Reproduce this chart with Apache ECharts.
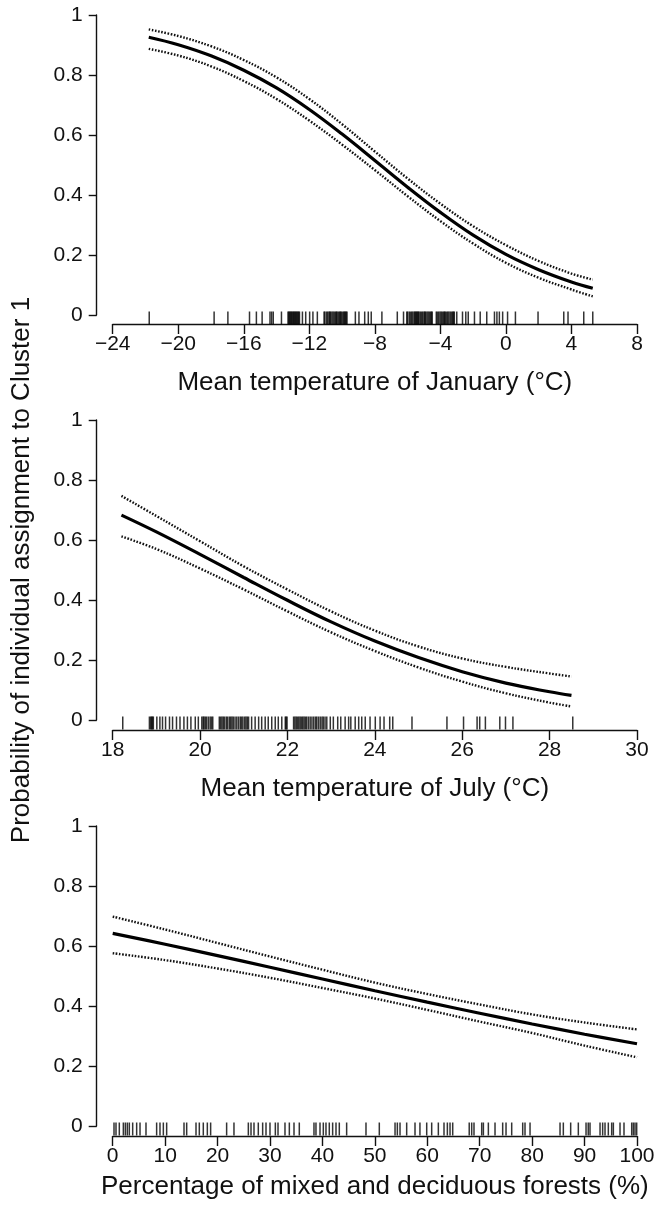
<!DOCTYPE html>
<html>
<head>
<meta charset="utf-8">
<script src="https://cdn.jsdelivr.net/npm/echarts@6/dist/echarts.min.js"></script>
<style>
  html, body { margin: 0; padding: 0; background: #fff; }
  #chart { width: 666px; height: 1209px; }
</style>
</head>
<body>
<div id="chart"></div>
<script>
// panel 1 - mean temperature of January
const janX = [-21.8, -20, -18, -16, -14, -12, -10, -8, -6, -4, -2, 0, 2, 4, 5.3];
const janFit = [0.926, 0.901, 0.864, 0.816, 0.757, 0.685, 0.603, 0.515, 0.426, 0.342, 0.266, 0.202, 0.151, 0.110, 0.089];
const janUpper = [0.952, 0.930, 0.896, 0.850, 0.792, 0.720, 0.636, 0.545, 0.455, 0.371, 0.296, 0.233, 0.180, 0.138, 0.118];
const janLower = [0.887, 0.865, 0.829, 0.780, 0.720, 0.648, 0.568, 0.483, 0.396, 0.313, 0.238, 0.174, 0.124, 0.085, 0.062];
const janRug = [-21.77, -17.81, -16.97, -15.65, -15.23, -14.88, -14.4, -14.3, -14.2, -13.7,
  -13.3, -13.25, -13.2, -13.15, -13.1, -13.05, -13.0, -12.95, -12.9, -12.85, -12.8, -12.75, -12.7, -12.65, -12.6,
  -12.42, -12.22, -11.98, -11.78, -11.51,
  -11.1, -11.05, -10.95, -10.88, -10.8, -10.75, -10.7, -10.62, -10.55, -10.48, -10.4, -10.35, -10.3, -10.22, -10.15,
  -10.1, -10.05, -9.97, -9.9, -9.85, -9.8, -9.75, -9.7,
  -9.19, -8.97, -8.62, -8.4, -8.22, -7.57, -6.63, -6.25,
  -6.05, -6.0, -5.9, -5.82, -5.75, -5.68, -5.6, -5.55, -5.5, -5.45, -5.4, -5.35, -5.3, -5.22, -5.15, -5.08, -5.0,
  -4.95, -4.9, -4.82, -4.75, -4.68, -4.6, -4.55, -4.5,
  -4.25, -4.18, -4.1, -4.02, -3.95, -3.88, -3.8, -3.75, -3.7, -3.62, -3.55, -3.48, -3.4, -3.32, -3.25, -3.2, -3.15,
  -3.0, -2.65, -2.45, -2.3, -1.92, -1.57, -1.17, -0.7, -0.55, -0.4, -0.2, 0.1, 0.58, 1.96, 3.53, 3.79, 4.75, 5.3];

// panel 2 - mean temperature of July
const julX = [18.2, 19, 20, 21, 22, 23, 24, 25, 26, 27, 28, 28.5];
const julFit = [0.683, 0.627, 0.552, 0.475, 0.399, 0.327, 0.263, 0.208, 0.161, 0.123, 0.094, 0.082];
const julUpper = [0.747, 0.680, 0.596, 0.512, 0.435, 0.362, 0.298, 0.245, 0.205, 0.177, 0.155, 0.145];
const julLower = [0.612, 0.570, 0.505, 0.435, 0.362, 0.292, 0.230, 0.175, 0.128, 0.089, 0.058, 0.045];
const julRug = [18.23, 18.84, 18.87, 18.89, 18.91, 18.93, 19.01, 19.08, 19.14, 19.21, 19.3, 19.37, 19.46, 19.54,
  19.63, 19.71, 19.79, 19.89, 19.96,
  20.04, 20.07, 20.09, 20.12, 20.15, 20.19, 20.23, 20.26, 20.29,
  20.44, 20.47, 20.5, 20.53, 20.56, 20.6, 20.63, 20.67, 20.7, 20.73, 20.76, 20.8, 20.84, 20.88, 20.92, 20.95, 20.98,
  21.02, 21.05, 21.08, 21.11, 21.18, 21.26, 21.34, 21.41, 21.49, 21.56, 21.64, 21.72, 21.79, 21.87,
  21.95, 21.97, 21.99,
  22.14, 22.17, 22.2, 22.23, 22.26, 22.29, 22.32, 22.35, 22.38, 22.41, 22.44, 22.48, 22.52, 22.56, 22.6, 22.64,
  22.67, 22.71, 22.75, 22.79, 22.82, 22.86, 22.9,
  22.98, 23.05, 23.15, 23.22, 23.32, 23.4, 23.45, 23.55, 23.63, 23.7, 23.78, 23.89, 24.01, 24.12, 24.21, 24.34,
  24.41, 24.85, 25.65, 26.03, 26.34, 26.4, 26.53, 26.86, 26.99, 27.16, 28.53];

// panel 3 - mixed and deciduous forests
const forX = [0, 10, 20, 30, 40, 50, 60, 70, 80, 90, 100];
const forFit = [0.642, 0.606, 0.568, 0.529, 0.490, 0.451, 0.413, 0.376, 0.340, 0.306, 0.274];
const forUpper = [0.698, 0.655, 0.610, 0.565, 0.521, 0.478, 0.440, 0.405, 0.372, 0.345, 0.322];
const forLower = [0.576, 0.553, 0.525, 0.494, 0.460, 0.425, 0.387, 0.348, 0.310, 0.268, 0.229];
const forRug = [0.25, 0.63, 1.26, 2.03, 2.41, 2.79, 3.17, 3.81, 4.57, 5.21, 6.35, 8.38, 9.02, 9.66, 10.29, 13.6, 14.11,
  15.89, 16.52, 17.28, 18.05, 18.68, 21.73, 23.13, 25.87, 26.38, 26.95, 27.77, 28.6, 29.24, 30.0, 31.02, 31.53, 32.86,
  33.69, 34.58, 35.59, 38.39, 38.77, 39.54, 40.17, 40.68, 41.31, 41.95, 42.59, 43.22, 44.62, 48.31, 50.85, 53.85, 54.29,
  54.8, 56.07, 57.66, 58.6, 59.89, 60.84, 62.11, 63.19, 63.83, 64.34, 64.85, 68.0, 68.47, 68.91, 70.38, 70.7, 71.65,
  72.92, 74.38, 75.02, 76.1, 78.2, 78.64, 79.6, 85.32, 85.95, 87.35, 88.81, 90.28, 90.7, 91.04, 92.95, 93.45, 93.9,
  94.53, 95.17, 95.49, 96.76, 97.52, 98.99, 99.3, 99.62, 99.94];

const xNames = ['Mean temperature of January (°C)', 'Mean temperature of July (°C)',
  'Percentage of mixed and deciduous forests (%)'];
const xRanges = [[-24, 8, 4], [18, 30, 2], [0, 100, 10]];
const yTitle = 'Probability of individual assignment to Cluster 1';

const panels = [
  { x: janX, fit: janFit, up: janUpper, lo: janLower, rug: janRug },
  { x: julX, fit: julFit, up: julUpper, lo: julLower, rug: julRug },
  { x: forX, fit: forFit, up: forUpper, lo: forLower, rug: forRug },
];

const FONT = "'Liberation Sans', Arial, sans-serif";
const INK = '#111';
const gridTops = [15, 420, 826];
const xOffsets = [9, 10, 10];
const nameGaps = [46, 46, 38];

const pts = (xs, ys) => xs.map((x, i) => [x, ys[i]]);
const minus = v => String(v).replace('-', '\u2212');

const grid = gridTops.map(t => ({ left: 112.7, width: 524.3, top: t, height: 300 }));

const xAxis = xRanges.map((r, i) => ({
  gridIndex: i, type: 'value', min: r[0], max: r[1], interval: r[2],
  offset: xOffsets[i],
  name: xNames[i], nameLocation: 'middle', nameGap: nameGaps[i],
  nameTextStyle: { fontFamily: FONT, fontSize: 26, color: INK },
  axisLine: { onZero: false, lineStyle: { color: INK, width: 1.4 } },
  axisTick: { length: 10, lineStyle: { color: INK, width: 1.4 } },
  axisLabel: { fontFamily: FONT, fontSize: 21, color: INK, margin: 10, formatter: minus },
  splitLine: { show: false },
}));

const yAxis = [0, 1, 2].map(i => ({
  gridIndex: i, type: 'value', min: 0, max: 1, interval: 0.2,
  offset: 16,
  name: i === 1 ? yTitle : '', nameLocation: 'middle', nameGap: 62,
  nameTextStyle: { fontFamily: FONT, fontSize: 26, color: INK },
  axisLine: { show: true, onZero: false, lineStyle: { color: INK, width: 1.4 } },
  axisTick: { show: true, length: 8, lineStyle: { color: INK, width: 1.4 } },
  axisLabel: { fontFamily: FONT, fontSize: 21, color: INK, margin: 14 },
  splitLine: { show: false },
}));

const series = [];
panels.forEach((p, i) => {
  const line = (data, dotted) => ({
    type: 'line', xAxisIndex: i, yAxisIndex: i, data: data,
    smooth: 0.4, showSymbol: false, symbol: 'none',
    lineStyle: dotted
      ? { color: INK, width: 2.4, type: [1.6, 1.6] }
      : { color: '#000', width: 3.2 },
    z: dotted ? 3 : 4,
  });
  series.push(line(pts(p.x, p.up), true));
  series.push(line(pts(p.x, p.lo), true));
  series.push(line(pts(p.x, p.fit), false));
  series.push({
    type: 'scatter', xAxisIndex: i, yAxisIndex: i, clip: false,
    data: p.rug.map(v => [v, 0]),
    symbol: 'rect', symbolSize: [1.5, 13], symbolOffset: [0, 3],
    itemStyle: { color: '#000' },
  });
});

const chart = echarts.init(document.getElementById('chart'));
chart.setOption({
  animation: false,
  backgroundColor: '#fff',
  grid: grid,
  xAxis: xAxis,
  yAxis: yAxis,
  series: series,
});
</script>
</body>
</html>
